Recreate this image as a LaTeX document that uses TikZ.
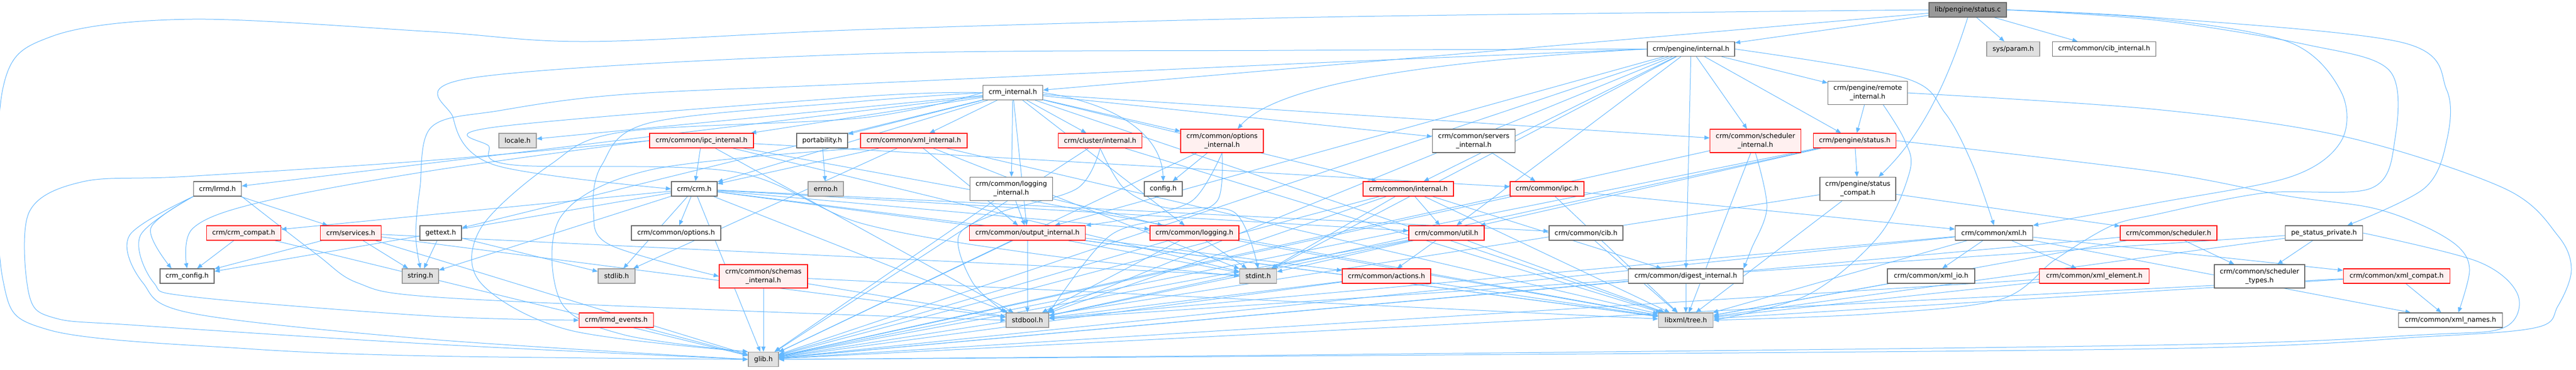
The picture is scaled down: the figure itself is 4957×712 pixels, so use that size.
\documentclass[tikz,border=0pt]{standalone}
\usepackage{fontspec}
\setmainfont{DejaVu Sans}
\usetikzlibrary{arrows.meta}
\definecolor{edgec}{HTML}{63B8FF}
\definecolor{bdgray}{HTML}{666666}
\definecolor{bdlight}{HTML}{999999}
\definecolor{fillgray}{HTML}{E0E0E0}
\definecolor{fillred}{HTML}{FFF0F0}
\definecolor{fillroot}{HTML}{999999}
\pgfdeclarelayer{edgelayer}
\pgfsetlayers{edgelayer,main}
\newcommand{\nodefont}{\fontsize{12.9}{16.8}\selectfont}
\tikzset{
  box/.style={draw, line width=1.4pt, inner sep=0pt, minimum height=28pt, font=\nodefont, align=center},
  wn/.style={box, draw=bdgray, fill=white},
  rn/.style={box, draw=red, fill=fillred},
  gn/.style={box, draw=bdlight, fill=fillgray},
  rootn/.style={box, draw=bdgray, fill=fillroot},
  two/.style={minimum height=45pt},
  e/.style={draw=edgec, line width=1pt, -{Triangle[length=10pt,width=8pt]}},
}
\begin{document}
\begin{tikzpicture}[x=1pt,y=-1pt]
\useasboundingbox (0,0) rectangle (4957,712);
% nodes
\node[rootn, minimum width=149pt] (S) at (3786.5,19) {lib/pengine/status.c};
\node[wn, minimum width=168pt] (PI) at (3254,94.5) {crm/pengine/internal.h};
\node[gn, minimum width=102pt] (SP) at (3874,94.5) {sys/param.h};
\node[wn, minimum width=199pt] (CIB) at (4049,94.5) {crm/common/cib\_internal.h};
\node[wn, minimum width=115pt] (CI) at (1949,178.5) {crm\_internal.h};
\node[wn, two, minimum width=153pt] (RI) at (3594,179) {crm/pengine/remote\\\_internal.h};
\node[gn, minimum width=72pt] (LOC) at (996,271) {locale.h};
\node[rn, minimum width=200pt] (IPCI) at (1350,271) {crm/common/ipc\_internal.h};
\node[wn, minimum width=98pt] (PORT) at (1582,271) {portability.h};
\node[rn, minimum width=205pt] (XMLI) at (1758.5,271) {crm/common/xml\_internal.h};
\node[rn, minimum width=161pt] (CLI) at (2117,271) {crm/cluster/internal.h};
\node[rn, two, minimum width=159pt] (OPTI) at (2351.6,271.5) {crm/common/options\\\_internal.h};
\node[wn, two, minimum width=159pt] (SRVI) at (2836,271.5) {crm/common/servers\\\_internal.h};
\node[rn, two, minimum width=175pt] (SCHI) at (3378,271.5) {crm/common/scheduler\\\_internal.h};
\node[rn, minimum width=159pt] (PS) at (3569,271) {crm/pengine/status.h};
\node[wn, minimum width=92pt] (LRMD) at (418.5,364) {crm/lrmd.h};
\node[wn, minimum width=88pt] (CRM) at (1336,364) {crm/crm.h};
\node[gn, minimum width=68pt] (ERRNO) at (1589,364) {errno.h};
\node[wn, two, minimum width=159pt] (LOGI) at (1946,364) {crm/common/logging\\\_internal.h};
\node[wn, minimum width=73pt] (CONF) at (2238.5,364) {config.h};
\node[rn, minimum width=174pt] (CINT) at (2710,364) {crm/common/internal.h};
\node[rn, minimum width=142pt] (IPC) at (2977,364) {crm/common/ipc.h};
\node[wn, two, minimum width=146pt] (PSC) at (3575,364) {crm/pengine/status\\\_compat.h};
\node[rn, minimum width=143pt] (COMPAT) at (469,449) {crm/crm\_compat.h};
\node[rn, minimum width=117pt] (SERV) at (675,449) {crm/services.h};
\node[wn, minimum width=80pt] (GETTEXT) at (848,449) {gettext.h};
\node[wn, minimum width=172pt] (OPT) at (1301,449) {crm/common/options.h};
\node[rn, minimum width=223pt] (OUTI) at (1977,449) {crm/common/output\_internal.h};
\node[rn, minimum width=171pt] (LOG) at (2298.5,449) {crm/common/logging.h};
\node[rn, minimum width=145pt] (UTIL) at (2783.5,449) {crm/common/util.h};
\node[wn, minimum width=142pt] (CIBH) at (3052,449) {crm/common/cib.h};
\node[wn, minimum width=149pt] (XML) at (3837,449) {crm/common/xml.h};
\node[rn, minimum width=186pt] (SCH) at (4173,449) {crm/common/scheduler.h};
\node[wn, minimum width=149pt] (PSP) at (4472,449) {pe\_status\_private.h};
\node[wn, minimum width=104pt] (CCONF) at (360,532) {crm\_config.h};
\node[gn, minimum width=70pt] (STR) at (809,532) {string.h};
\node[gn, minimum width=71pt] (STDLIB) at (1186.5,532) {stdlib.h};
\node[rn, two, minimum width=170pt] (SCHEMAS) at (1469,532.5) {crm/common/schemas\\\_internal.h};
\node[gn, minimum width=71pt] (STDINT) at (2421,532) {stdint.h};
\node[rn, minimum width=170pt] (ACT) at (2668,532) {crm/common/actions.h};
\node[wn, minimum width=221pt] (DIG) at (3244,532) {crm/common/digest\_internal.h};
\node[wn, minimum width=168pt] (XMLIO) at (3716,532) {crm/common/xml\_io.h};
\node[rn, minimum width=211pt] (XMLEL) at (4030,532) {crm/common/xml\_element.h};
\node[wn, two, minimum width=174pt] (SCHT) at (4348,532.5) {crm/common/scheduler\\\_types.h};
\node[rn, minimum width=205pt] (XMLC) at (4611.7,532) {crm/common/xml\_compat.h};
\node[rn, minimum width=143pt] (EVT) at (1186,617) {crm/lrmd\_events.h};
\node[gn, minimum width=82pt] (STDBOOL) at (1977,617) {stdbool.h};
\node[gn, minimum width=105pt] (TREE) at (3244,617) {libxml/tree.h};
\node[wn, minimum width=200pt] (XMLN) at (4715.6,617) {crm/common/xml\_names.h};
\node[gn, minimum width=58pt] (GLIB) at (1469,692.5) {glib.h};

\begin{pgfonlayer}{edgelayer}
\fill[white] (0,0) rectangle (4957,712);
\foreach \a/\b in {S/CI, S/PI, S/SP, S/CIB,
  PI/RI, PI/PS, PI/SCHI, PI/CINT, PI/OUTI, PI/STDBOOL, PI/STDINT, PI/GLIB, PI/UTIL, PI/DIG,
  CI/LRMD, CI/LOC, CI/GETTEXT, CI/IPCI, CI/PORT, CI/XMLI, CI/CLI, CI/OPTI, CI/LOGI, CI/OUTI, CI/LOG, CI/CINT, CI/SRVI, CI/SCHI, CI/TREE, CI/CRM,
  RI/PS,
  IPCI/CRM, IPCI/STDBOOL, IPCI/STDINT, IPCI/TREE, IPCI/IPC,
  PORT/ERRNO,
  XMLI/CRM, XMLI/OUTI, XMLI/STDLIB, XMLI/STDINT, XMLI/TREE,
  CLI/GLIB, CLI/TREE,
  OPTI/CONF, OPTI/GLIB,
  SRVI/IPC,
  SCHI/TREE, SCHI/GLIB,
  PS/PSC, PS/STDBOOL, PS/GLIB, PS/UTIL,
  PSC/SCH, PSC/GLIB, PSC/TREE,
  LRMD/SERV,
  CRM/OPT, CRM/STDLIB, CRM/STR, CRM/CCONF, CRM/COMPAT, CRM/GLIB, CRM/STDBOOL, CRM/TREE, CRM/LOG, CRM/UTIL, CRM/CIBH, CRM/ACT,
  LOGI/OUTI, LOGI/LOG, LOGI/GLIB,
  CINT/DIG, CINT/UTIL, CINT/STDBOOL, CINT/STDINT, CINT/GLIB, CINT/TREE,
  IPC/TREE, IPC/GLIB, IPC/XML,
  COMPAT/CCONF, COMPAT/GLIB,
  SERV/CCONF, SERV/STR, SERV/GLIB, SERV/STDBOOL, SERV/STDINT,
  GETTEXT/STR, GETTEXT/STDLIB,
  OUTI/STDBOOL, OUTI/STDINT, OUTI/GLIB, OUTI/TREE,
  LOG/STDINT, LOG/STDBOOL, LOG/GLIB, LOG/TREE,
  UTIL/ACT, UTIL/GLIB, UTIL/STDBOOL, UTIL/TREE, UTIL/STDINT,
  CIBH/TREE,
  XML/XMLIO, XML/XMLEL, XML/XMLC, XML/XMLN, XML/TREE, XML/GLIB, XML/STDBOOL,
  SCH/SCHT, SCH/GLIB, SCH/TREE,
  PSP/SCHT, PSP/TREE, PSP/STDBOOL,
  SCHEMAS/GLIB, SCHEMAS/TREE, SCHEMAS/STDBOOL,
  ACT/TREE, ACT/GLIB, ACT/STDBOOL,
  DIG/TREE, DIG/GLIB,
  XMLIO/TREE,
  XMLEL/TREE, XMLEL/GLIB,
  XMLC/XMLN, XMLC/TREE, XMLC/GLIB,
  EVT/GLIB}
  \draw[e] (\a) -- (\b);
% long routed connectors
\draw[e] plot[smooth, tension=0.55] coordinates {(S.west) (3320,23) (2490,34) (1660,57) (1132,80) (830,61) (370,37) (100,70) (5,173) (5,536) (95,636) (476,672) (830,686) (GLIB.west)};
\draw[e] plot[smooth, tension=0.55] coordinates {(IPCI.west) (830,309) (360,340) (160,350) (56,409) (56,568) (106,613) (265,627) (830,663) (GLIB.west)};
\draw[e] plot[smooth, tension=0.55] coordinates {(PI.west) (2490,97) (1660,104) (909,150) (872,227) (952,318) (CRM.west)};
\draw[e] plot[smooth, tension=0.55] coordinates {(CI.west) (1660,186) (952,245) (941,282) (989,318) (1412,331) (1660,431) (2000,490) (STDINT.west)};
\draw[e] plot[smooth, tension=0.55] coordinates {(S.east) (4150,34) (4623,82) (4708,173) (4708,272) (4665,363) ([xshift=45pt]PSP.north)};
\draw[e] plot[smooth, tension=0.55] coordinates {(S.east) (4150,36) (4407,82) (4505,177) (4505,272) (4407,341) (4150,391) (XML.north east)};
\draw[e] plot[smooth, tension=0.55] coordinates {(S.east) (4150,39) (4438,86) (4598,136) (4608,272) (4562,363) (4356,372) (4150,413) (4061,436) (3955,500) (3849,577) (3600,605) (TREE.east)};
\draw[e] plot[smooth, tension=0.55] coordinates {(RI.east) (4150,211) (4510,263) (4819,363) (4922,454) (4948,520) (4922,590) (4881,631) (4665,649) (4150,672) (2500,686) (GLIB.east)};
\draw[e] (S.south) .. controls (3750,150) and (3700,260) .. ([xshift=40pt]PSC.north);
\draw[e] plot[smooth, tension=0.55] coordinates {(PI.west) (2490,123) (1660,161) (1200,182) (962,213) (830,245) (808,363) (800,454) (STR.north)};
\draw[e] (CI.east) .. controls (2150,200) and (2235,260) .. (CONF.north);
\draw[e] plot[smooth, tension=0.55] coordinates {(CI.west) (1660,227) (1200,254) (1058,318) (925,440) (925,545) (1095,636) (GLIB.north west)};
\draw[e] plot[smooth, tension=0.55] coordinates {(CI.west) (1660,195) (1253,236) (1158,318) (1142,409) (1174,472) (SCHEMAS.west)};
\draw[e] plot[smooth, tension=0.55] coordinates {(XMLI.south west) (1253,327) (1079,418) (1079,581) (1200,645) (GLIB.north west)};
\draw[e] plot[smooth, tension=0.55] coordinates {(IPCI.west) (830,329) (500,390) (371,440) (CCONF.north)};
\draw[e] plot[smooth, tension=0.55] coordinates {(CLI.south) (2073,363) (1925,409) (1845,454) (1872,545) (STDBOOL.north west)};
\draw[e] plot[smooth, tension=0.55] coordinates {(CLI.south) (2163,363) (2242,400) (2375,409) (STDINT.north)};
\draw[e] plot[smooth, tension=0.55] coordinates {(OPTI.south) (2295,386) (2189,418) (OUTI.north east)};
\draw[e] plot[smooth, tension=0.55] coordinates {(OPTI.south) (2343,386) (2269,418) (2136,454) (STDBOOL.north east)};
\draw[e] plot[smooth, tension=0.55] coordinates {(SCHI.south) (3400,400) (3370,480) (DIG.north east)};
\draw[e] plot[smooth, tension=0.55] coordinates {(PS.east) (4150,331) (4397,377) (4562,400) (4665,436) (4732,477) (4752,522) ([xshift=15pt]XMLN.north)};
\draw[e] plot[smooth, tension=0.55] coordinates {([xshift=30pt]RI.south) (3665,270) (3675,330) (3616,454) (3479,568) (TREE.east)};
\draw[e] plot[smooth, tension=0.55] coordinates {(PSP.east) (4768,504) (4845,568) (4819,631) (4665,645) (4150,665) (2500,684) (GLIB.east)};
\draw[e] plot[smooth, tension=0.55] coordinates {(LRMD.south west) (290,440) ([xshift=-30pt]CCONF.north)};
\draw[e] plot[smooth, tension=0.55] coordinates {(LRMD.south west) (270,454) (296,545) (371,572) (830,609) (EVT.west)};
\draw[e] plot[smooth, tension=0.55] coordinates {(LRMD.south west) (249,454) (275,545) (371,604) (830,654) (GLIB.west)};
\draw[e] plot[smooth, tension=0.55] coordinates {(LRMD.south east) (609,490) (688,545) (830,572) (1400,598) (STDBOOL.west)};
\draw[e] plot[smooth, tension=0.55] coordinates {(PI.east) (3664,150) (3743,218) (3796,318) (XML.north)};
\draw[e] (PI.west) .. controls (2700,120) and (2450,170) .. ([xshift=30pt]OPTI.north);
\end{pgfonlayer}
\end{tikzpicture}
\end{document}
